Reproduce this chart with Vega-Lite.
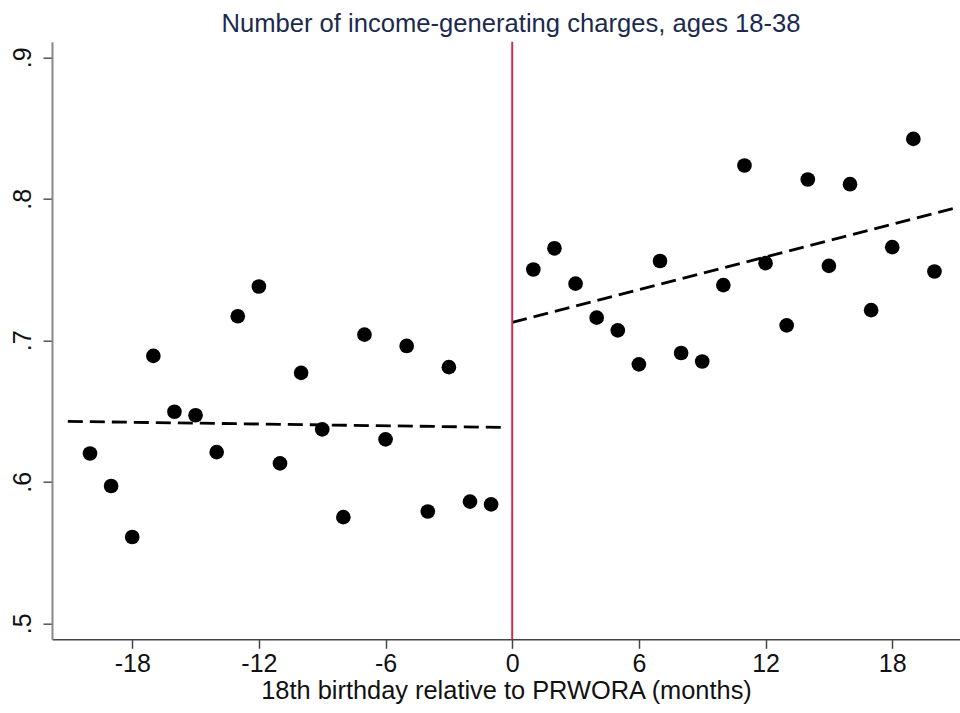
{
  "$schema": "https://vega.github.io/schema/vega-lite/v6.json",
  "autosize": {"type": "none"},
  "width": 908,
  "height": 597.6,
  "padding": {"left": 52, "top": 41.7, "right": 0, "bottom": 73.7},
  "background": "white",
  "config": {
    "view": {"stroke": null},
    "font": "Liberation Sans",
    "axis": {"grid": false}
  },
  "title": {
    "text": "Number of income-generating charges, ages 18-38",
    "font": "Liberation Sans",
    "fontSize": 25.6,
    "fontWeight": "normal",
    "color": "#1c2a4e",
    "anchor": "middle",
    "offset": 3,
    "dx": 5
  },
  "datasets": {
    "points": [
      {"month": -20, "charges": 0.620},
      {"month": -19, "charges": 0.597},
      {"month": -18, "charges": 0.561},
      {"month": -17, "charges": 0.689},
      {"month": -16, "charges": 0.6495},
      {"month": -15, "charges": 0.647},
      {"month": -14, "charges": 0.621},
      {"month": -13, "charges": 0.717},
      {"month": -12, "charges": 0.738},
      {"month": -11, "charges": 0.613},
      {"month": -10, "charges": 0.677},
      {"month": -9, "charges": 0.637},
      {"month": -8, "charges": 0.575},
      {"month": -7, "charges": 0.704},
      {"month": -6, "charges": 0.630},
      {"month": -5, "charges": 0.696},
      {"month": -4, "charges": 0.579},
      {"month": -3, "charges": 0.681},
      {"month": -2, "charges": 0.586},
      {"month": -1, "charges": 0.584},
      {"month": 1, "charges": 0.750},
      {"month": 2, "charges": 0.765},
      {"month": 3, "charges": 0.740},
      {"month": 4, "charges": 0.716},
      {"month": 5, "charges": 0.707},
      {"month": 6, "charges": 0.683},
      {"month": 7, "charges": 0.756},
      {"month": 8, "charges": 0.691},
      {"month": 9, "charges": 0.685},
      {"month": 10, "charges": 0.739},
      {"month": 11, "charges": 0.8235},
      {"month": 12, "charges": 0.7545},
      {"month": 13, "charges": 0.7105},
      {"month": 14, "charges": 0.8136},
      {"month": 15, "charges": 0.7526},
      {"month": 16, "charges": 0.8103},
      {"month": 17, "charges": 0.7213},
      {"month": 18, "charges": 0.7658},
      {"month": 19, "charges": 0.8423},
      {"month": 20, "charges": 0.7486}
    ],
    "fits": [
      {"side": "before", "month": -21.05, "fit": 0.6427},
      {"side": "before", "month": -0.25, "fit": 0.6384},
      {"side": "after", "month": 0, "fit": 0.7126},
      {"side": "after", "month": 21.05, "fit": 0.7938}
    ]
  },
  "encoding": {
    "x": {
      "type": "quantitative",
      "scale": {"domain": [-21.8, 21.21], "nice": false, "zero": false},
      "axis": {
        "values": [-18, -12, -6, 0, 6, 12, 18],
        "labelExpr": "'' + datum.value",
        "title": "18th birthday relative to PRWORA (months)",
        "titleFont": "Liberation Sans",
        "titleFontSize": 25.4,
        "titleFontWeight": "normal",
        "titleColor": "#111111",
        "titlePadding": 2,
        "labelFont": "Liberation Sans",
        "labelFontSize": 25,
        "labelColor": "#111111",
        "labelPadding": 3,
        "tickSize": 9,
        "tickColor": "#444444",
        "tickWidth": 1.5,
        "domainColor": "#444444",
        "domainWidth": 1.5
      }
    },
    "y": {
      "type": "quantitative",
      "scale": {"domain": [0.4887, 0.911], "nice": false, "zero": false},
      "axis": {
        "values": [0.5, 0.6, 0.7, 0.8, 0.9],
        "labelExpr": "substring(format(datum.value, '.1f'), 1)",
        "title": null,
        "labelFont": "Liberation Sans",
        "labelFontSize": 25,
        "labelColor": "#111111",
        "labelAngle": -90,
        "labelAlign": "center",
        "labelBaseline": "bottom",
        "labelPadding": 8,
        "tickSize": 9,
        "tickColor": "#555555",
        "tickWidth": 1.5,
        "domainColor": "#888888",
        "domainWidth": 2
      }
    }
  },
  "layer": [
    {
      "data": {"name": "points"},
      "mark": {"type": "circle", "size": 215, "color": "black", "opacity": 1},
      "encoding": {
        "x": {"field": "month"},
        "y": {"field": "charges"}
      }
    },
    {
      "data": {"name": "fits"},
      "mark": {"type": "line", "color": "black", "strokeWidth": 2.8, "strokeDash": [15, 7]},
      "encoding": {
        "x": {"field": "month"},
        "y": {"field": "fit"},
        "detail": {"field": "side", "type": "nominal"}
      }
    },
    {
      "data": {"values": [{"cut": 0}]},
      "mark": {"type": "rule", "color": "#c9304f", "strokeWidth": 2},
      "encoding": {
        "x": {"field": "cut"}
      }
    }
  ]
}
